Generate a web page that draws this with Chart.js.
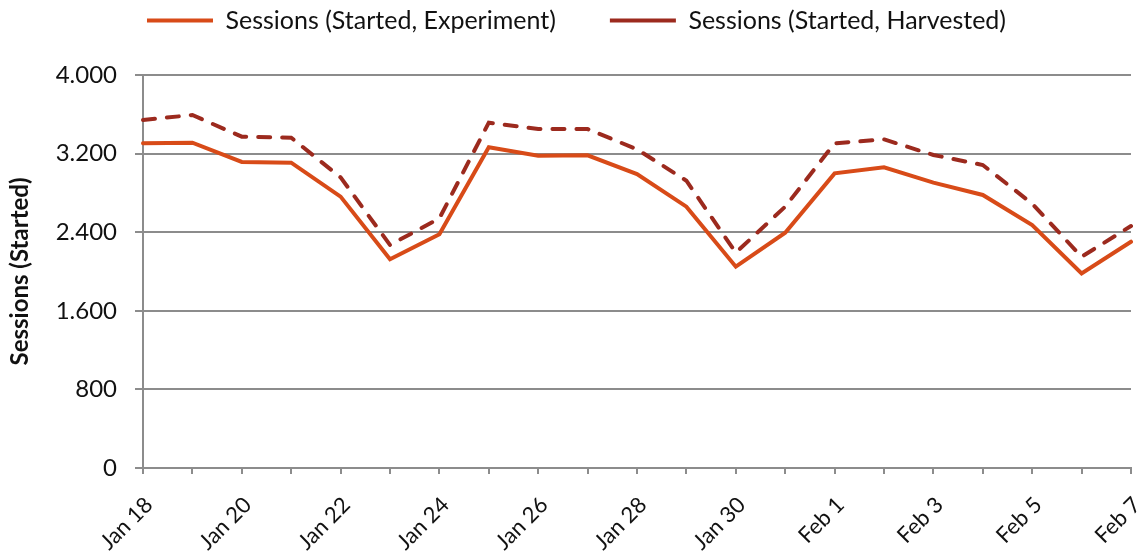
<!DOCTYPE html>
<html>
<head>
<meta charset="utf-8">
<script src="https://cdn.jsdelivr.net/npm/chart.js@4.4.1/dist/chart.umd.min.js"></script>
<style>
  html, body { margin: 0; padding: 0; background: #fff; }
  .chart-container { width: 1137px; height: 556px; position: relative; }
</style>
</head>
<body>
<div class="chart-container">
  <canvas id="sessionsChart"></canvas>
</div>
<script>
const days = [
  'Jan 18', 'Jan 19', 'Jan 20', 'Jan 21', 'Jan 22', 'Jan 23', 'Jan 24',
  'Jan 25', 'Jan 26', 'Jan 27', 'Jan 28', 'Jan 29', 'Jan 30', 'Jan 31',
  'Feb 1', 'Feb 2', 'Feb 3', 'Feb 4', 'Feb 5', 'Feb 6', 'Feb 7'
];
const experiment = [3305, 3311, 3115, 3108, 2762, 2124, 2378, 3264, 3179, 3182, 2992,
                    2660, 2049, 2395, 2999, 3060, 2904, 2779, 2473, 1981, 2303];
const harvested = [3542, 3593, 3372, 3362, 2958, 2270, 2541, 3515, 3450, 3450, 3244,
                   2924, 2192, 2660, 3305, 3345, 3186, 3084, 2690, 2150, 2463];
const yTicks = [0, 800, 1600, 2400, 3200, 4000];

const fontFamily = 'Lato, "Open Sans", sans-serif';
const gridColor = '#8c8c8c';

function formatThousands(value) {
  return String(value).replace(/\B(?=(\d{3})+(?!\d))/g, '.');
}

// legend sits in the top strip, nudge it up into place after layout
// (only the top moves so the clip box still covers the items)
const legendShift = {
  id: 'legendShift',
  afterLayout(chart) {
    const lg = chart.legend;
    if (!lg) return;
    lg.top -= 46;
    lg.left += 8;
    lg.right += 8;
  }
};

const ctx = document.getElementById('sessionsChart').getContext('2d');
new Chart(ctx, {
  type: 'line',
  data: {
    labels: days,
    datasets: [
      {
        label: 'Sessions (Started, Experiment)',
        data: experiment,
        borderColor: '#d84b18',
        backgroundColor: '#d84b18',
        borderWidth: 4,
        borderCapStyle: 'round',
        pointRadius: 0,
        tension: 0,
        pointStyle: 'line'
      },
      {
        label: 'Sessions (Started, Harvested)',
        data: harvested,
        borderColor: '#9c2a1e',
        backgroundColor: '#9c2a1e',
        borderWidth: 4,
        borderDash: [12, 12],
        borderCapStyle: 'round',
        pointRadius: 0,
        tension: 0,
        pointStyle: 'line'
      }
    ]
  },
  plugins: [legendShift],
  options: {
    responsive: true,
    maintainAspectRatio: false,
    animation: false,
    layout: { padding: { left: 6, right: 6, top: 0, bottom: 0 } },
    plugins: {
      legend: {
        display: true,
        position: 'top',
        maxHeight: 75,
        labels: {
          usePointStyle: true,
          pointStyleWidth: 66,
          boxHeight: 25,
          padding: 54,
          color: '#111',
          font: { family: fontFamily, size: 25 }
        }
      },
      tooltip: { enabled: false }
    },
    scales: {
      x: {
        grid: {
          display: true,
          drawOnChartArea: false,
          drawTicks: true,
          tickLength: 6,
          color: gridColor,
          lineWidth: 2
        },
        border: { color: gridColor, width: 2 },
        ticks: {
          autoSkip: false,
          minRotation: 45,
          maxRotation: 45,
          padding: 18,
          labelOffset: 6,
          color: '#111',
          font: { family: fontFamily, size: 22 },
          callback: function(value, index) {
            return index % 2 === 0 ? this.getLabelForValue(value) : '';
          }
        },
        afterFit: function(scale) {
          scale.height = 88;
          scale.paddingLeft = 0;
          scale.paddingRight = 0;
        }
      },
      y: {
        min: 0,
        max: 4000,
        afterBuildTicks: function(scale) {
          scale.ticks = yTicks.map(v => ({ value: v }));
        },
        grid: {
          color: gridColor,
          lineWidth: 2,
          drawTicks: true,
          tickLength: 8
        },
        border: { color: gridColor, width: 2 },
        ticks: {
          padding: 18,
          color: '#111',
          font: { family: fontFamily, size: 24 },
          callback: function(value) { return formatThousands(value); }
        },
        title: {
          display: true,
          text: 'Sessions (Started)',
          color: '#111',
          padding: { top: 0, bottom: 0 },
          font: { family: fontFamily, size: 24, weight: 'bold' }
        },
        afterFit: function(scale) { scale.width = 137; }
      }
    }
  }
});
</script>
</body>
</html>
